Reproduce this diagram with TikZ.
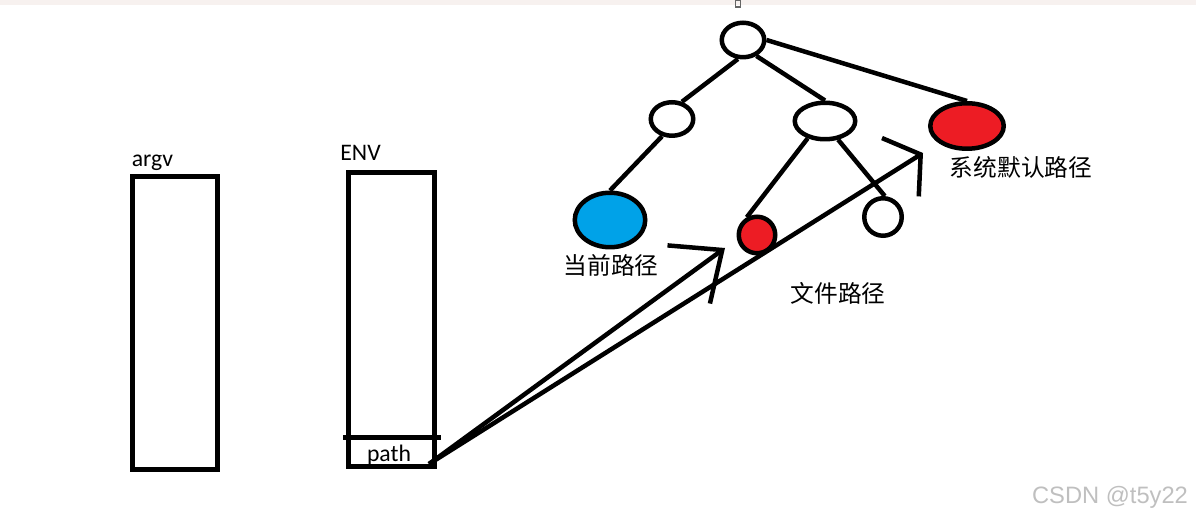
\documentclass[tikz,border=0pt]{standalone}
\usepackage{fontspec}
\setmainfont{Carlito}
\newfontfamily\cjk{Noto Sans CJK SC}
\newfontfamily\wmfont{Liberation Sans}
\usetikzlibrary{arrows.meta,positioning,shapes.geometric}
\definecolor{dirred}{RGB}{237,28,36}
\definecolor{dirblue}{RGB}{0,162,232}
\definecolor{barbg}{RGB}{247,241,239}
\tikzset{
  pen/.style={draw=black,line width=0.09cm},
  stackbox/.style={pen,line width=0.1cm,rectangle,fill=white,inner sep=0pt,minimum width=1.72cm},
  dirnode/.style={pen,ellipse,fill=white,inner sep=0pt},
  reddir/.style={dirnode,fill=dirred},
  bluedir/.style={dirnode,fill=dirblue},
  edge/.style={pen},
  pointer/.style n args={2}{pen,-{Straight Barb[length=#1,width=#2]}},
  tag/.style={inner sep=0pt,font=\fontsize{13.5}{16}\selectfont},
  cjktag/.style={inner sep=0pt,font=\cjk\fontsize{13.5}{16}\selectfont},
}

\begin{document}
\begin{tikzpicture}[x=0.02cm,y=-0.02cm]
  \useasboundingbox (0,0) rectangle (1196,519);
  \fill[barbg] (0,0) rectangle (1196,5);
  \draw[black!60,line width=0.6pt] (735.5,0) rectangle (740.5,7);
  % stacks
  \node[stackbox,minimum height=5.86cm] (argv) at (175,323) {};
  \node[stackbox,minimum height=5.88cm] (env) at (391.5,319.5) {};
  \node[tag,above right=0.07cm and 0.04cm of argv.north west] (argvlbl) {argv};
  \node[tag,above right=0.19cm and -0.12cm of env.north west] (envlbl) {ENV};
  \draw[pen,line width=0.1cm] (343,438) -- (441,438);
  \node[tag] (pathcell) at (389,455) {path};
  % directory tree
  \node[dirnode,minimum width=0.85cm,minimum height=0.69cm] (root) at (743,40) {};
  \node[dirnode,minimum width=0.85cm,minimum height=0.67cm] (lmid) at (672,119) {};
  \node[dirnode,minimum width=1.21cm,minimum height=0.73cm] (rmid) at (825,121) {};
  \node[reddir,minimum width=1.47cm,minimum height=0.91cm] (sysdir) at (967,126) {};
  \node[bluedir,minimum width=1.41cm,minimum height=1.09cm] (curdir) at (610,220) {};
  \node[reddir,circle,minimum size=0.73cm] (filedir) at (757,235) {};
  \node[dirnode,circle,minimum size=0.75cm] (leaf) at (883,217) {};
  \draw[edge] (root.-105) -- (lmid.60);
  \draw[edge] (root.-50) -- (rmid.north);
  \draw[edge] (root.east) -- (sysdir.north);
  \draw[edge] (lmid.-120) -- (curdir.north);
  \draw[edge] (rmid.-135) -- (filedir.120);
  \draw[edge] (rmid.-55) -- (leaf.85);
  \node[cjktag] (curlbl) at (611,265) {当前路径};
  \node[cjktag] (filelbl) at (838,293) {文件路径};
  \node[cjktag] (syslbl) at (1021,167) {系统默认路径};
  % search order
  \coordinate (src) at (429,464);
  \coordinate (tipcur) at (725,248);
  \coordinate (tipsys) at (923,153);
  \draw[pointer={0.83cm}{1.44cm}] (src) -- (tipcur);
  \draw[pointer={0.48cm}{1.38cm}] (src) -- (tipsys);
  \node[inner sep=0pt,font=\wmfont\fontsize{13.5}{16}\selectfont,text=black!25] (mark) at (1110,497) {CSDN @t5y22};
\end{tikzpicture}
\end{document}
